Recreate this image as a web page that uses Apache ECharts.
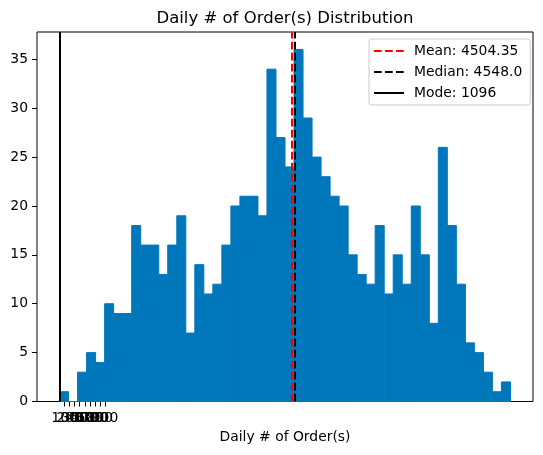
<!DOCTYPE html>
<html>
<head>
<meta charset="utf-8">
<script src="https://cdn.jsdelivr.net/npm/echarts@6/dist/echarts.min.js"></script>
<style>
  html, body { margin: 0; padding: 0; background: #fff; }
  #chart { width: 543px; height: 455px; }
</style>
</head>
<body>
<div id="chart"></div>
<script>
// 日订单量分布直方图 — 50 个区间 + 均值/中位数/众数竖线

const binMin = 1096;
const binMax = 7704;
const binCounts = [
  1, 0, 3, 5, 4, 10, 9, 9, 18, 16,
  16, 13, 16, 19, 7, 14, 11, 12, 16, 20,
  21, 21, 19, 34, 27, 24, 36, 29, 25, 23,
  21, 20, 15, 13, 12, 18, 11, 15, 12, 20,
  15, 8, 26, 18, 12, 6, 5, 3, 1, 2
];
const meanValue = 4504.35;
const medianValue = 4548.0;
const modeValue = 1096;

// x 轴刻度（原图里挤在左侧，互相重叠）
const xTickValues = [1096, 1170, 1244, 1318, 1392, 1466, 1540, 1614, 1688, 1762, 1836];
const xTickLabels = ['0', '100', '200', '300', '400', '500', '600', '700', '800', '900', '1000'];
const yTickValues = [0, 5, 10, 15, 20, 25, 30, 35];

const font = 'DejaVu Sans';
const barColor = '#0077bb';

const binWidth = (binMax - binMin) / binCounts.length;
const histData = binCounts.map((c, i) => [binMin + i * binWidth, binMin + (i + 1) * binWidth, c]);

const xPad = (binMax - binMin) * 0.05;
const yMax = Math.max(...binCounts) * 1.05;

function vline(name, value, color, dashed) {
  const lineStyle = { color: color, width: 2, type: dashed ? [7.7, 3.3] : 'solid' };
  return {
    name: name,
    type: 'line',
    data: [],
    symbol: 'none',
    showSymbol: false,
    lineStyle: lineStyle,
    itemStyle: { color: color },
    markLine: {
      silent: true,
      symbol: ['none', 'none'],
      label: { show: false },
      lineStyle: lineStyle,
      data: [{ xAxis: value }],
    },
  };
}

const chart = echarts.init(document.getElementById('chart'), null, { renderer: 'canvas' });
chart.setOption({
  animation: false,
  textStyle: { fontFamily: font },
  title: {
    text: 'Daily # of Order(s) Distribution',
    left: 285,
    top: 10,
    padding: 0,
    textAlign: 'center',
    textStyle: { fontFamily: font, fontSize: 16.5, fontWeight: 'normal', color: '#000' },
  },
  legend: {
    orient: 'vertical',
    left: 369,
    top: 39,
    padding: [5, 8, 5, 4],
    itemWidth: 30,
    itemHeight: 14,
    itemGap: 7,
    selectedMode: false,
    itemStyle: { opacity: 0 },
    backgroundColor: 'rgba(255,255,255,0.8)',
    borderColor: '#cccccc',
    borderWidth: 1,
    borderRadius: 3,
    textStyle: { fontFamily: font, fontSize: 13.9, color: '#000', padding: [0, 0, 0, 5] },
    data: ['Mean: 4504.35', 'Median: 4548.0', 'Mode: 1096'],
  },
  grid: {
    left: 37,
    right: 10,
    top: 32,
    bottom: 53.5,
    show: true,
    borderColor: '#000',
    borderWidth: 1,
    backgroundColor: 'transparent',
  },
  xAxis: {
    type: 'value',
    min: binMin - xPad,
    max: binMax + xPad,
    name: 'Daily # of Order(s)',
    nameLocation: 'middle',
    nameGap: 29,
    nameTextStyle: { fontFamily: font, fontSize: 13.9, color: '#000' },
    axisLine: { show: false },
    splitLine: { show: false },
    axisTick: { show: true, length: 5, lineStyle: { color: '#000' }, customValues: xTickValues },
    axisLabel: {
      customValues: xTickValues,
      formatter: v => xTickLabels[xTickValues.indexOf(v)],
      margin: 10,
      fontFamily: font,
      fontSize: 13.9,
      color: '#000',
    },
  },
  yAxis: {
    type: 'value',
    min: 0,
    max: yMax,
    axisLine: { show: false },
    splitLine: { show: false },
    axisTick: { show: true, length: 5, lineStyle: { color: '#000' }, customValues: yTickValues },
    axisLabel: {
      customValues: yTickValues,
      margin: 9,
      fontFamily: font,
      fontSize: 13.9,
      color: '#000',
    },
  },
  series: [
    {
      name: 'hist',
      type: 'custom',
      data: histData,
      encode: { x: [0, 1], y: 2 },
      renderItem(params, api) {
        const top = api.coord([api.value(0), api.value(2)]);
        const bottom = api.coord([api.value(1), 0]);
        return {
          type: 'rect',
          shape: { x: top[0], y: top[1], width: bottom[0] - top[0], height: bottom[1] - top[1] },
          style: { fill: barColor, stroke: barColor, lineWidth: 1 },
        };
      },
    },
    vline('Mean: 4504.35', meanValue, '#ff0000', true),
    vline('Median: 4548.0', medianValue, '#000000', true),
    vline('Mode: 1096', modeValue, '#000000', false),
  ],
});
</script>
</body>
</html>
